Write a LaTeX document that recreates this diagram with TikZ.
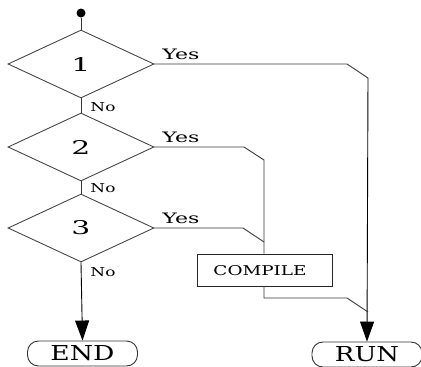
\documentclass[tikz,border=0pt]{standalone}
\usepackage{fontspec}
\setmainfont{DejaVu Serif}
\usetikzlibrary{shapes.geometric,arrows.meta}
% set a word to a given width and cap height
\newcommand{\fitbox}[3]{\resizebox{#1}{#2}{#3}}
\begin{document}
\begin{tikzpicture}[x=1pt,y=-1pt,
  line width=0.9pt,
  flow/.style={draw=black!78},
  decision/.style={draw=black!72, diamond, aspect=2.15, minimum width=146pt,
    minimum height=68pt, inner sep=0pt},
  terminal/.style={draw=black!80, rectangle, rounded corners=11pt, minimum width=110pt,
    minimum height=25pt, inner sep=0pt},
  process/.style={draw=black!85, rectangle, minimum width=135pt, minimum height=32pt,
    inner sep=0pt},
  lbl/.style={inner sep=0pt},
  tip/.style={-{Triangle[length=20pt,width=14pt]}}
]
\useasboundingbox (0,0) rectangle (421,367);

% start point
\node[circle, fill=black, inner sep=0pt, minimum size=9pt] (start) at (81,13) {};

% decisions
\node[decision] (d1) at (81,64) {\fitbox{19pt}{14pt}{1}};
\node[decision] (d2) at (81,147) {\fitbox{19pt}{14pt}{2}};
\node[decision] (d3) at (81,228) {\fitbox{19pt}{14pt}{3}};

% process and terminals
\node[process] (comp) at (265,270) {};
\node[lbl] (comptext) at (260,270.5) {\fitbox{93pt}{10pt}{COMPILE}};
\node[terminal] (end) at (82.5,353.5) {\fitbox{64pt}{15pt}{END}};
\node[terminal] (run) at (367,354.5) {\fitbox{64pt}{15pt}{RUN}};

% bend points
\coordinate (b1a) at (347,64);
\coordinate (b1b) at (368,78);
\coordinate (b2a) at (244,147);
\coordinate (b2b) at (264,160);
\coordinate (b3a) at (243,228);
\coordinate (b3b) at (264,242);
\coordinate (c1) at (264,298);
\coordinate (c2) at (347,298);
\coordinate (c3) at (368,312);

% main spine
\draw[flow] (start) -- (d1.north);
\draw[flow] (d1.south) -- (d2.north);
\draw[flow] (d2.south) -- (d3.north);
\draw[flow, tip, black] (d3.south) -- (end.north);

% Yes branches
\draw[flow] (d1.east) -- (b1a) -- (b1b);
\draw[flow, tip, black] (b1b) -- (run.north);
\draw[flow] (d2.east) -- (b2a) -- (b2b) -- (comp.north -| b2b);
\draw[flow] (d3.east) -- (b3a) -- (b3b);
\draw[flow] (comp.south -| c1) -- (c1) -- (c2) -- (c3);

% labels
\node[lbl, anchor=base west] (y1) at (162,59) {\fitbox{37pt}{10.5pt}{Yes}};
\node[lbl, anchor=base west] (y2) at (162,142) {\fitbox{37pt}{10.5pt}{Yes}};
\node[lbl, anchor=base west] (y3) at (162,223) {\fitbox{37pt}{10.5pt}{Yes}};
\node[lbl, anchor=base west] (n1) at (90,111) {\fitbox{25pt}{9pt}{No}};
\node[lbl, anchor=base west] (n2) at (90,192) {\fitbox{25pt}{9pt}{No}};
\node[lbl, anchor=base west] (n3) at (90,276) {\fitbox{25pt}{9pt}{No}};
\end{tikzpicture}
\end{document}
